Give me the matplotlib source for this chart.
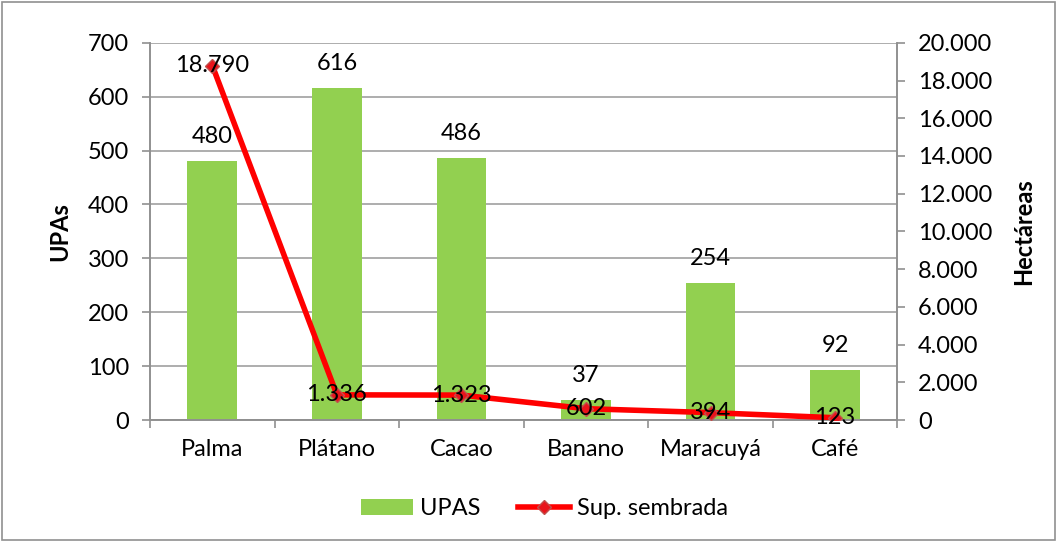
import matplotlib
matplotlib.use("Agg")
import matplotlib.pyplot as plt
from matplotlib.ticker import FuncFormatter, MultipleLocator, FixedLocator
from matplotlib.patches import Rectangle

categories = ["Palma", "Plátano", "Cacao", "Banano", "Maracuyá", "Café"]
upas = [480, 616, 486, 37, 254, 92]
hectareas = [18790, 1336, 1323, 602, 394, 123]

plt.rcParams['font.family'] = ['Lato', 'DejaVu Sans']
FS = 17

fig = plt.figure(figsize=(10.57, 5.42), dpi=100)
ax = fig.add_axes([0.142, 0.225, 0.707, 0.696])
ax2 = ax.twinx()

x = list(range(len(categories)))
bars = ax.bar(x, upas, width=0.4, color="#92D050", zorder=2, label="UPAS")
ax.set_xlim(-0.5, len(categories) - 0.5)
ax.set_ylim(0, 700)
ax.yaxis.set_major_locator(MultipleLocator(100))
ax.grid(axis="y", color="#A0A0A0", linewidth=1.2, zorder=0)
ax.set_axisbelow(True)
ax.set_xticks(x)
ax.set_xticklabels(categories)
ax.xaxis.set_minor_locator(FixedLocator([i + 0.5 for i in range(-1, len(categories))]))
ax.tick_params(axis="x", which="major", length=0, labelsize=FS, pad=14)
ax.tick_params(axis="x", which="minor", length=6, color="#909090", width=1.2)
ax.tick_params(axis="y", labelsize=FS, length=6, color="#909090", width=1.2, pad=9)
ax.set_ylabel("UPAs", fontsize=FS, fontweight="bold", labelpad=12)

for xi, v in zip(x, upas):
    ax.text(xi, v + 26, str(v), ha="center", va="bottom", fontsize=FS, zorder=5)

ln, = ax2.plot(x, hectareas, color="#FF0000", linewidth=4, marker="D", markersize=7,
               markerfacecolor="#E8141B", markeredgecolor="#C0504D", zorder=3,
               label="Sup. sembrada")
ax2.set_ylim(0, 20000)
ax2.yaxis.set_major_locator(MultipleLocator(2000))
ax2.yaxis.set_major_formatter(FuncFormatter(lambda v, p: f"{int(v):,}".replace(",", ".")))
ax2.tick_params(axis="y", labelsize=FS, length=6, color="#909090", width=1.2, pad=9)
ax2.set_ylabel("Hectáreas", fontsize=FS, fontweight="bold", labelpad=14)

for xi, v in zip(x, hectareas):
    ax2.text(xi, v, f"{v:,}".replace(",", "."), ha="center", va="center", fontsize=FS, zorder=6)

for a in (ax, ax2):
    for s in a.spines.values():
        s.set_color("#909090")
        s.set_linewidth(1.2)
    a.spines["top"].set_visible(False)

ax.legend([bars, ln], ["UPAS", "Sup. sembrada"], loc="center", bbox_to_anchor=(0.515, 0.061),
          bbox_transform=fig.transFigure, ncol=2, frameon=False, fontsize=FS,
          handlelength=2.2, handletextpad=0.3, columnspacing=1.6)

fig.patches.append(Rectangle((0.002, 0.004), 0.996, 0.992, transform=fig.transFigure,
                             fill=False, edgecolor="#909090", linewidth=1.2))

fig.savefig("out.png", dpi=100)
